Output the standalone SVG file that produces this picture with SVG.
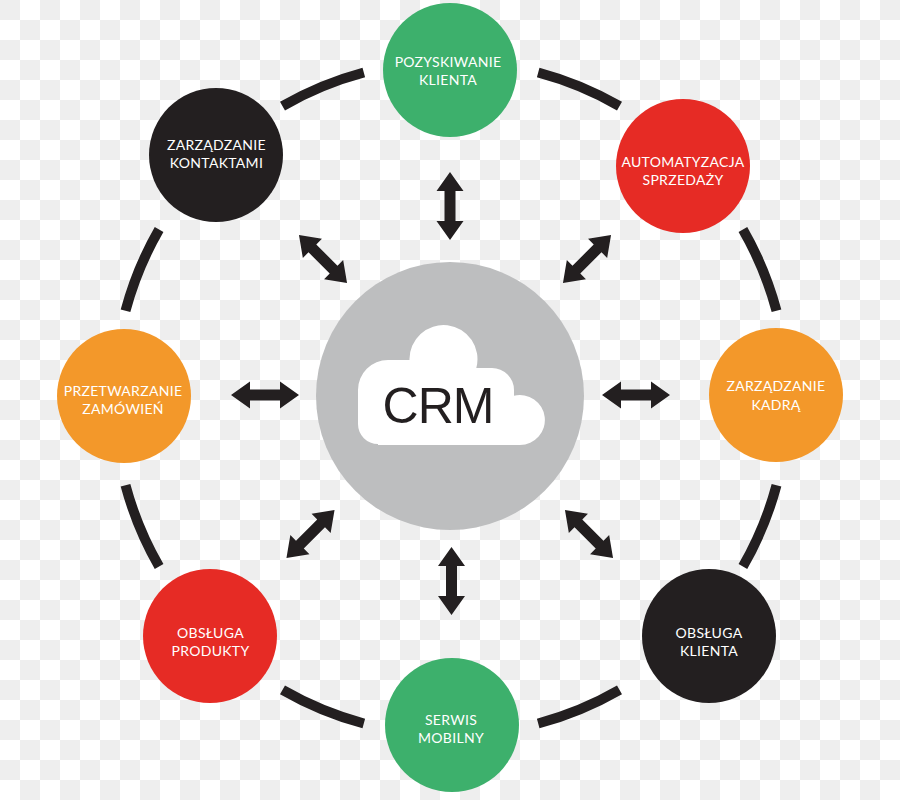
<svg xmlns="http://www.w3.org/2000/svg" xmlns:xlink="http://www.w3.org/1999/xlink" width="900" height="800" viewBox="0 0 900 800">
<defs>
<pattern id="checker" width="40" height="40" patternUnits="userSpaceOnUse">
<rect width="40" height="40" fill="#ffffff"/>
<rect x="0" y="0" width="20" height="20" fill="#eeeeee"/>
<rect x="20" y="20" width="20" height="20" fill="#eeeeee"/>
</pattern>
<path id="dbl" d="M-34,0 L-15,-13.5 L-15,-5.5 L15,-5.5 L15,-13.5 L34,0 L15,13.5 L15,5.5 L-15,5.5 L-15,13.5 Z"/>
</defs>
<style>
.ring{fill:none;stroke:#231f20;stroke-width:10}
.arrow{fill:#231f20}
.lbl{font-family:Lato,"Open Sans",sans-serif;font-size:14px;fill:#ffffff;text-anchor:middle;letter-spacing:0.3px}
.green{fill:#3db06c}
.red{fill:#e62b25}
.orange{fill:#f3982a}
.black{fill:#231f20}
</style>
<rect width="900" height="800" fill="url(#checker)"/>
<g id="connectors">
<path class="ring" d="M776.5,485.2 A337,337 0 0 1 742.9,566.5"/>
<path class="ring" d="M619.5,689.9 A337,337 0 0 1 538.2,723.5"/>
<path class="ring" d="M363.8,723.5 A337,337 0 0 1 282.5,689.9"/>
<path class="ring" d="M159.1,566.5 A337,337 0 0 1 125.5,485.2"/>
<path class="ring" d="M125.5,310.8 A337,337 0 0 1 159.1,229.5"/>
<path class="ring" d="M282.5,106.1 A337,337 0 0 1 363.8,72.5"/>
<path class="ring" d="M538.2,72.5 A337,337 0 0 1 619.5,106.1"/>
<path class="ring" d="M742.9,229.5 A337,337 0 0 1 776.5,310.8"/>
<use class="arrow" xlink:href="#dbl" href="#dbl" transform="translate(450,206) rotate(90)"/>
<use class="arrow" xlink:href="#dbl" href="#dbl" transform="translate(451.5,581) rotate(90)"/>
<use class="arrow" xlink:href="#dbl" href="#dbl" transform="translate(265,395)"/>
<use class="arrow" xlink:href="#dbl" href="#dbl" transform="translate(636,395)"/>
<use class="arrow" xlink:href="#dbl" href="#dbl" transform="translate(323,259) rotate(45)"/>
<use class="arrow" xlink:href="#dbl" href="#dbl" transform="translate(587,259) rotate(-45)"/>
<use class="arrow" xlink:href="#dbl" href="#dbl" transform="translate(310.5,534) rotate(-45)"/>
<use class="arrow" xlink:href="#dbl" href="#dbl" transform="translate(589,534) rotate(45)"/>
</g>
<g id="crm">
<circle cx="450" cy="396" r="134" fill="#bdbebf"/>
<path d="M378,444 A20,20 0 0 1 358,424 V390 A30,30 0 0 1 388,360 H409.5 A34,34 0 1 1 476.3,368 H492 A22,22 0 0 1 514,390 V395.7 A25,25 0 1 1 520,445 H378 Z" fill="#ffffff"/>
<text x="438" y="423" font-family="'Liberation Sans',Arial,sans-serif" font-size="50" fill="#231f20" text-anchor="middle" letter-spacing="-1">CRM</text>
</g>
<g id="pozyskiwanie">
<circle class="green" cx="450" cy="70" r="67"/>
<text class="lbl" x="448" y="66.5">POZYSKIWANIE</text>
<text class="lbl" x="448" y="84.5">KLIENTA</text>
</g>
<g id="automatyzacja">
<circle class="red" cx="683" cy="166" r="67"/>
<text class="lbl" x="683" y="166.5">AUTOMATYZACJA</text>
<text class="lbl" x="683" y="184.5">SPRZEDAŻY</text>
</g>
<g id="kadra">
<circle class="orange" cx="776" cy="395" r="67"/>
<text class="lbl" x="776" y="391">ZARZĄDZANIE</text>
<text class="lbl" x="776" y="409.5">KADRĄ</text>
</g>
<g id="obsluga-klienta">
<circle class="black" cx="709" cy="636" r="67"/>
<text class="lbl" x="709" y="637.5">OBSŁUGA</text>
<text class="lbl" x="709" y="656">KLIENTA</text>
</g>
<g id="serwis">
<circle class="green" cx="452" cy="725" r="67"/>
<text class="lbl" x="451" y="724.5">SERWIS</text>
<text class="lbl" x="451" y="743">MOBILNY</text>
</g>
<g id="obsluga-produkty">
<circle class="red" cx="210" cy="636" r="67"/>
<text class="lbl" x="210.5" y="637.5">OBSŁUGA</text>
<text class="lbl" x="210.5" y="656">PRODUKTY</text>
</g>
<g id="przetwarzanie">
<circle class="orange" cx="124" cy="396" r="67"/>
<text class="lbl" x="123" y="395.5">PRZETWARZANIE</text>
<text class="lbl" x="123" y="414">ZAMÓWIEŃ</text>
</g>
<g id="kontakty">
<circle class="black" cx="216" cy="155" r="67"/>
<text class="lbl" x="216.5" y="150">ZARZĄDZANIE</text>
<text class="lbl" x="216.5" y="168">KONTAKTAMI</text>
</g>
</svg>
